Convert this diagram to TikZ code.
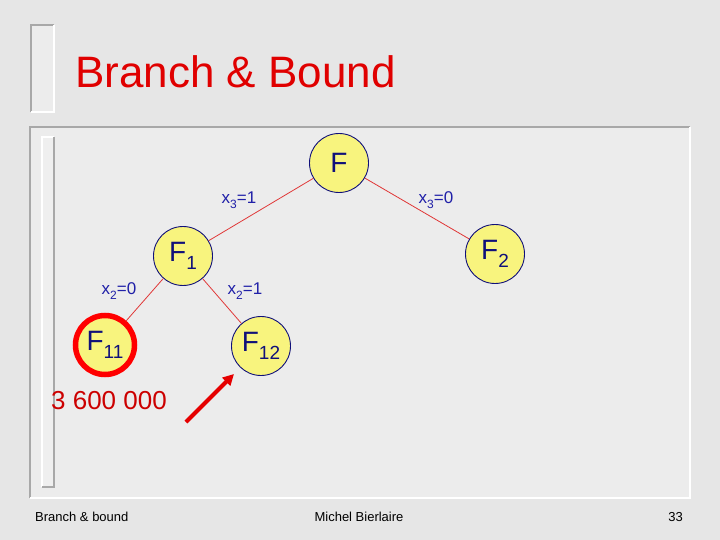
\documentclass[tikz,border=0pt]{standalone}
\usepackage{fontspec}
\setmainfont{Liberation Sans}
\usetikzlibrary{arrows.meta}
\definecolor{bgc}{HTML}{E6E6E6}
\definecolor{panelc}{HTML}{ECECEC}
\definecolor{edgegrey}{HTML}{A8A8A8}
\definecolor{nodefill}{HTML}{F8F47E}
\definecolor{navy}{HTML}{10107A}
\definecolor{lblblue}{HTML}{2020A8}
\definecolor{titlered}{HTML}{E00000}
\definecolor{edgered}{HTML}{E03838}
\tikzset{
  bbnode/.style={circle, draw=navy, line width=0.9pt, fill=nodefill, minimum size=59pt, inner sep=0pt, text=navy, font=\fontsize{28}{28}\selectfont},
  hotnode/.style={bbnode, draw=red, line width=5.5pt, minimum size=59pt},
  branch/.style={draw=edgered, line width=0.8pt},
  brlabel/.style={text=lblblue, font=\fontsize{17}{17}\selectfont, inner sep=0pt},
  footer/.style={font=\fontsize{13}{13}\selectfont, text=black, inner sep=0pt}
}
\newcommand{\subsc}[1]{\raisebox{-0.28em}{\fontsize{19}{19}\selectfont #1}}
\newcommand{\lsub}[1]{\raisebox{-0.3em}{\fontsize{12}{12}\selectfont #1}}
\begin{document}
\begin{tikzpicture}[x=1pt,y=-1pt]
\useasboundingbox (0,0) rectangle (720,540);
\fill[bgc] (0,0) rectangle (720,540);
% title bracket
\fill[panelc] (31,25) rectangle (54,112);
\draw[edgegrey, line width=2pt] (31,112) -- (31,25) -- (54,25);
\draw[white, line width=2pt] (31,112) -- (54,112) -- (54,25);
% panel
\fill[panelc] (30,127) rectangle (690,498);
\draw[edgegrey, line width=2pt] (30,498) -- (30,127) -- (690,127);
\draw[white, line width=2pt] (30,498) -- (690,498) -- (690,127);
% inner strip
\fill[panelc!85!white] (42,137) rectangle (54,487);
\draw[white, line width=1.5pt] (42,487) -- (42,137) -- (54,137);
\draw[edgegrey, line width=1.5pt] (42,487) -- (54,487) -- (54,137);
% title
\node[anchor=base west, inner sep=0pt, text=titlered, font=\fontsize{44}{44}\selectfont] (title) at (75,88) {Branch \& Bound};
% nodes
\node[bbnode] (F) at (339,163) {F};
\node[bbnode] (F1) at (183,256) {F\subsc{1}};
\node[bbnode] (F2) at (495,254) {F\subsc{2}};
\node[hotnode] (F11) at (105,345) {F\subsc{11}};
\node[bbnode] (F12) at (261,346) {F\subsc{12}};
% branches
\draw[branch] (F) -- (F1);
\draw[branch] (F) -- (F2);
\draw[branch] (F1) -- (F11);
\draw[branch] (F1) -- (F12);
% labels
\node[brlabel] (l31) at (239,200) {x\lsub{3}=1};
\node[brlabel] (l30) at (436,200) {x\lsub{3}=0};
\node[brlabel] (l20) at (119,291) {x\lsub{2}=0};
\node[brlabel] (l21) at (245,291) {x\lsub{2}=1};
% value
\node[inner sep=0pt, text=red!80!black, font=\fontsize{26}{26}\selectfont] (val) at (109,401) {3 600 000};
% arrow
\coordinate (as) at (186,422);
\coordinate (ae) at (234,374);
\draw[red!90!black, line width=4pt, -{Triangle[length=11pt,width=11pt]}] (as) -- (ae);
% footer
\node[footer, anchor=base west] (f1) at (35,521) {Branch \& bound};
\node[footer, anchor=base] (f2) at (359,521) {Michel Bierlaire};
\node[footer, anchor=base east] (f3) at (683,521) {33};
\end{tikzpicture}
\end{document}
